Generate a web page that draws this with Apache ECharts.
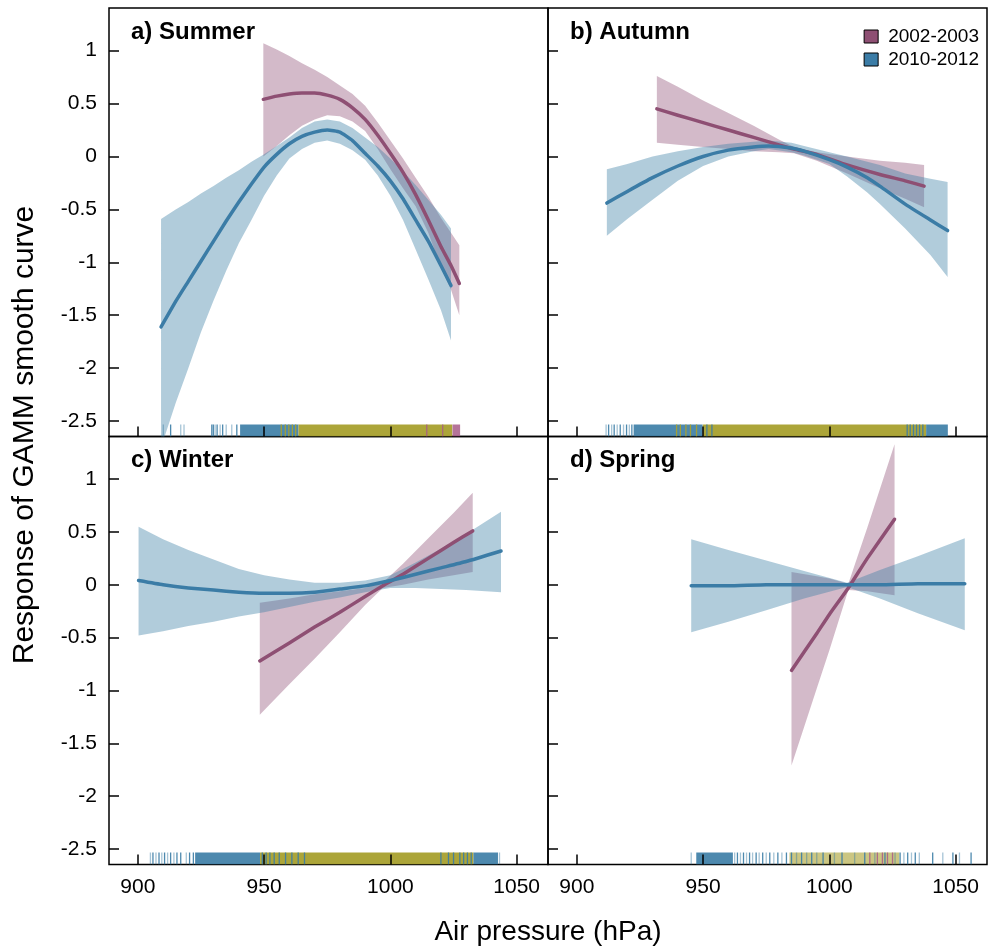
<!DOCTYPE html>
<html>
<head>
<meta charset="utf-8">
<script src="https://cdn.jsdelivr.net/npm/echarts@6/dist/echarts.min.js"></script>
<style>
html, body { margin: 0; padding: 0; background: #fff; }
#chart { width: 988px; height: 952px; }
</style>
</head>
<body>
<div id="chart"></div>
<script>
// GAMM smooth curves: rows are [air pressure, fit, lower CI, upper CI]
const summerOld = [
	[949.7, 0.54, 0.00, 1.07], [955, 0.57, 0.10, 1.01], [960, 0.59, 0.20, 0.95],
	[965, 0.60, 0.29, 0.88], [970, 0.60, 0.35, 0.82], [975, 0.58, 0.39, 0.75],
	[980, 0.54, 0.38, 0.67], [985, 0.46, 0.33, 0.59], [990, 0.35, 0.24, 0.48],
	[995, 0.20, 0.07, 0.32], [1000, 0.03, -0.12, 0.15], [1005, -0.15, -0.30, -0.02],
	[1010, -0.36, -0.47, -0.20], [1015, -0.60, -0.72, -0.38], [1020, -0.85, -1.05, -0.58],
	[1024, -1.03, -1.26, -0.72], [1027.3, -1.20, -1.50, -0.84]
];
const summerNew = [
	[909.2, -1.61, -2.75, -0.59], [915, -1.37, -2.33, -0.50], [920, -1.18, -2.00, -0.43],
	[925, -0.99, -1.66, -0.35], [930, -0.80, -1.36, -0.28], [935, -0.61, -1.08, -0.20],
	[940, -0.43, -0.82, -0.13], [945, -0.26, -0.60, -0.05], [950, -0.10, -0.37, 0.02],
	[955, 0.02, -0.18, 0.10], [960, 0.12, -0.02, 0.18], [965, 0.19, 0.07, 0.27],
	[970, 0.23, 0.13, 0.33], [975, 0.25, 0.15, 0.35], [980, 0.23, 0.12, 0.33],
	[985, 0.15, 0.06, 0.27], [990, 0.03, -0.03, 0.18], [995, -0.09, -0.18, 0.09],
	[1000, -0.23, -0.37, -0.02], [1005, -0.40, -0.60, -0.14], [1010, -0.60, -0.88, -0.27],
	[1015, -0.80, -1.16, -0.41], [1020, -1.03, -1.45, -0.55], [1024, -1.22, -1.74, -0.68]
];
const autumnOld = [
	[931.7, 0.45, 0.13, 0.76], [940, 0.39, 0.11, 0.66], [950, 0.32, 0.09, 0.53],
	[960, 0.25, 0.07, 0.41], [970, 0.18, 0.05, 0.29], [980, 0.11, 0.04, 0.16],
	[986, 0.07, 0.03, 0.09], [995, 0.02, -0.04, 0.04], [1007, -0.08, -0.16, 0.00],
	[1020, -0.17, -0.30, -0.04], [1030, -0.23, -0.40, -0.06], [1037.5, -0.28, -0.48, -0.08]
];
const autumnNew = [
	[911.9, -0.44, -0.75, -0.12], [920, -0.33, -0.59, -0.07], [930, -0.20, -0.41, 0.00],
	[940, -0.09, -0.23, 0.05], [950, 0.00, -0.09, 0.09], [960, 0.06, 0.00, 0.12],
	[970, 0.09, 0.05, 0.14], [976, 0.10, 0.07, 0.15], [985, 0.08, 0.04, 0.13],
	[990, 0.05, 0.01, 0.10], [1000, -0.03, -0.07, 0.04], [1007, -0.10, -0.19, 0.00],
	[1015, -0.20, -0.34, -0.05], [1020, -0.28, -0.45, -0.08], [1030, -0.45, -0.68, -0.16],
	[1040, -0.60, -0.93, -0.21], [1046.8, -0.70, -1.14, -0.24]
];
const winterOld = [
	[948.3, -0.72, -1.23, -0.17], [960, -0.55, -0.94, -0.13], [970, -0.40, -0.70, -0.09],
	[980, -0.26, -0.45, -0.06], [990, -0.11, -0.19, -0.03], [997, -0.01, -0.03, 0.02],
	[1005, 0.10, 0.00, 0.20], [1015, 0.25, 0.05, 0.44], [1025, 0.40, 0.09, 0.68],
	[1032.6, 0.51, 0.12, 0.87]
];
const winterNew = [
	[900.3, 0.04, -0.48, 0.55], [910, 0.00, -0.44, 0.43], [920, -0.03, -0.39, 0.33],
	[930, -0.05, -0.35, 0.24], [940, -0.07, -0.30, 0.15], [950, -0.08, -0.26, 0.09],
	[960, -0.08, -0.21, 0.05], [970, -0.07, -0.16, 0.02], [980, -0.04, -0.12, 0.02],
	[990, -0.01, -0.07, 0.04], [1000, 0.04, -0.03, 0.09], [1010, 0.10, -0.03, 0.21],
	[1020, 0.16, -0.04, 0.34], [1030, 0.22, -0.05, 0.48], [1043.8, 0.32, -0.07, 0.69]
];
const springOld = [
	[985, -0.81, -1.71, 0.12], [995, -0.46, -0.98, 0.08], [1000, -0.28, -0.62, 0.06],
	[1007.5, -0.03, -0.05, 0.01], [1015, 0.25, -0.06, 0.54], [1025.8, 0.62, -0.10, 1.33]
];
const springNew = [
	[945.3, -0.01, -0.45, 0.43], [960, -0.01, -0.35, 0.33], [975, 0.00, -0.24, 0.23],
	[990, 0.00, -0.13, 0.13], [1007, 0.00, -0.02, 0.02], [1020, 0.00, -0.13, 0.14],
	[1035, 0.01, -0.27, 0.27], [1053.6, 0.01, -0.43, 0.44]
];

// rug of observations: [from, to, kind]  kind 0 blue, 1 olive, 2 pink, 3 pale blue, 4 pale olive
const rugSummer = [
	[910.1, 910.1, 3], [913, 913, 0], [917, 917, 3], [918.3, 918.3, 3],
	[929.3, 929.3, 0], [929.9, 929.9, 0], [930.6, 930.6, 3], [931.4, 931.4, 0],
	[932.6, 932.6, 3], [933.6, 933.6, 0], [935, 935, 3], [937.2, 937.2, 3], [939.2, 939.2, 0],
	[940.5, 963.6, 0],
	[956.8, 956.8, 1], [958.4, 958.4, 1], [959.8, 959.8, 1], [961.2, 961.2, 1], [962.5, 962.5, 1],
	[963.6, 1024.5, 1],
	[1014.4, 1014.4, 2], [1020.7, 1020.7, 2],
	[1024.6, 1027.6, 2]
];
const rugAutumn = [
	[911.6, 911.6, 3], [912.6, 912.6, 0], [913.8, 913.8, 3], [914.8, 914.8, 0], [916, 916, 3],
	[917.2, 917.2, 0], [918.5, 918.5, 3], [919.7, 919.7, 0], [920.8, 920.8, 3], [921.8, 921.8, 0],
	[922.5, 949.8, 0],
	[939.5, 939.5, 1], [941, 941, 1], [943.2, 943.2, 1], [945, 945, 1], [947.4, 947.4, 1],
	[949.9, 1038.3, 1],
	[951.5, 951.5, 0], [953.5, 953.5, 0], [1030.8, 1030.8, 0], [1032, 1032, 0],
	[1033.3, 1033.3, 0], [1034.5, 1034.5, 0], [1035.7, 1035.7, 0], [1037, 1037, 0],
	[1038.3, 1046.9, 0]
];
const rugWinter = [
	[905, 905, 3], [906, 906, 0], [907.2, 907.2, 3], [908.4, 908.4, 0], [909.5, 909.5, 3],
	[910.6, 910.6, 0], [911.8, 911.8, 3], [913, 913, 0], [914.3, 914.3, 3], [915.5, 915.5, 0],
	[917, 917, 0], [919.2, 919.2, 3], [920.5, 920.5, 0], [922, 922, 0],
	[922.7, 948.4, 0],
	[948.4, 1032.9, 1],
	[949.3, 949.3, 0], [950.8, 950.8, 0], [952.3, 952.3, 0], [954, 954, 0], [956, 956, 0],
	[958.5, 958.5, 0], [961, 961, 0], [963.5, 963.5, 0], [966, 966, 0], [1020, 1020, 0],
	[1023, 1023, 0], [1025, 1025, 0], [1027.5, 1027.5, 0], [1029, 1029, 0],
	[1030.5, 1030.5, 0], [1032, 1032, 0],
	[1032.9, 1042.6, 0], [1043.2, 1043.2, 3]
];
const rugSpring = [
	[945.3, 945.3, 3],
	[947.3, 961.8, 0],
	[962.5, 962.5, 3], [963.6, 963.6, 0], [964.8, 964.8, 3], [966, 966, 0], [967.2, 967.2, 3],
	[968.4, 968.4, 0], [969.6, 969.6, 3], [971, 971, 0], [972.2, 972.2, 3], [973.6, 973.6, 0],
	[975, 975, 3], [976.4, 976.4, 0], [978, 978, 3], [979.6, 979.6, 0], [981.2, 981.2, 3], [983, 983, 0],
	[984.2, 1027.7, 4],
	[985, 985, 0], [987, 987, 3], [989, 989, 0], [991, 991, 3], [993, 993, 0], [995, 995, 3],
	[997.5, 997.5, 0], [1002, 1002, 3], [1005, 1005, 0], [1010, 1010, 3], [1014, 1014, 0],
	[1018, 1018, 3], [1022, 1022, 0], [1026, 1026, 3],
	[1016, 1016, 2], [1019, 1019, 2], [1021, 1021, 2], [1023, 1023, 2], [1025, 1025, 2],
	[1028, 1028, 0], [1029.5, 1029.5, 3], [1031, 1031, 0], [1032.5, 1032.5, 3], [1034, 1034, 0],
	[1035.6, 1035.6, 3], [1040.9, 1040.9, 0], [1044.9, 1044.9, 3], [1048.9, 1048.9, 0],
	[1051.5, 1051.5, 3], [1056.1, 1056.1, 0]
];

const panelTitles = ['a) Summer', 'b) Autumn', 'c) Winter', 'd) Spring'];
const periods = ['2002-2003', '2010-2012'];
const xTicks = [900, 950, 1000, 1050];
const yTicks = [-2.5, -2, -1.5, -1, -0.5, 0, 0.5, 1];
const xMin = 888.6, xMax = 1062.4;
const yMin = -2.646, yMax = 1.403;

const font = '"Liberation Sans", Arial, sans-serif';
const pink = '#8e4f73', blue = '#3b7ca6';
const pinkFill = 'rgba(139,74,112,0.38)', blueFill = 'rgba(61,127,166,0.4)';
const rugColors = ['rgba(58,124,165,0.9)', 'rgba(168,160,46,0.95)', 'rgba(168,92,136,0.85)',
	'rgba(58,124,165,0.45)', 'rgba(168,160,46,0.6)'];

const panels = [
	{old: summerOld, recent: summerNew, rug: rugSummer},
	{old: autumnOld, recent: autumnNew, rug: rugAutumn},
	{old: winterOld, recent: winterNew, rug: rugWinter},
	{old: springOld, recent: springNew, rug: rugSpring}
];

const grids = [
	{left: 109, top: 8, width: 439, height: 428.5},
	{left: 548, top: 8, width: 439, height: 428.5},
	{left: 109, top: 436.5, width: 439, height: 428},
	{left: 548, top: 436.5, width: 439, height: 428}
];

function bandSeries(rows, idx, fill) {
	return {
		type: 'custom', name: 'band', xAxisIndex: idx, yAxisIndex: idx,
		clip: true, silent: true, z: 1,
		data: rows,
		renderItem: function (params, api) {
			if (params.dataIndex !== 0) return;
			let top = rows.map(function (r) { return api.coord([r[0], r[3]]); });
			let bottom = rows.map(function (r) { return api.coord([r[0], r[2]]); }).reverse();
			return {type: 'polygon', shape: {points: top.concat(bottom)}, style: {fill: fill}};
		}
	};
}

function rugSeries(segs, idx) {
	return {
		type: 'custom', name: 'rug', xAxisIndex: idx, yAxisIndex: idx,
		clip: true, silent: true, z: 3,
		data: segs,
		renderItem: function (params, api) {
			let a = api.coord([api.value(0), yMin]);
			let b = api.coord([api.value(1), yMin]);
			let w = Math.max(b[0] - a[0], 1.3);
			return {
				type: 'rect',
				shape: {x: a[0] - (b[0] - a[0] < 1 ? 0.65 : 0), y: a[1] - 12, width: w, height: 12},
				style: {fill: rugColors[api.value(2)]}
			};
		}
	};
}

function lineSeries(rows, idx, name, color) {
	return {
		type: 'line', name: name, xAxisIndex: idx, yAxisIndex: idx, z: 4,
		data: rows.map(function (r) { return [r[0], r[1]]; }),
		showSymbol: false, smooth: 0.15, silent: true,
		itemStyle: {color: color},
		lineStyle: {color: color, width: 3.5, cap: 'round', join: 'round'}
	};
}

let series = [];
panels.forEach(function (p, i) {
	series.push(bandSeries(p.old, i, pinkFill));
	series.push(bandSeries(p.recent, i, blueFill));
	series.push(rugSeries(p.rug, i));
	series.push(lineSeries(p.old, i, periods[0], pink));
	series.push(lineSeries(p.recent, i, periods[1], blue));
});

const option = {
	animation: false,
	backgroundColor: '#fff',
	grid: grids.map(function (g) {
		return Object.assign({show: true, borderColor: '#000', borderWidth: 1.5, backgroundColor: 'transparent'}, g);
	}),
	xAxis: grids.map(function (g, i) {
		return {
			type: 'value', gridIndex: i, min: xMin, max: xMax, z: 6, position: 'bottom',
			axisLine: {show: false, onZero: false},
			splitLine: {show: false},
			axisTick: {show: true, inside: true, length: 10, customValues: xTicks, lineStyle: {color: '#000', width: 1.5}},
			axisLabel: {
				show: i >= 2, customValues: xTicks, margin: 12, fontSize: 21, color: '#000', fontFamily: font,
				formatter: function (v) { return String(v); }
			}
		};
	}),
	yAxis: grids.map(function (g, i) {
		return {
			type: 'value', gridIndex: i, min: yMin, max: yMax, z: 6, position: 'left',
			axisLine: {show: false, onZero: false},
			splitLine: {show: false},
			axisTick: {show: true, inside: true, length: 10, customValues: yTicks, lineStyle: {color: '#000', width: 1.5}},
			axisLabel: {
				show: i % 2 === 0, customValues: yTicks, margin: 12, fontSize: 21, color: '#000', fontFamily: font,
				formatter: function (v) { return String(v); }
			}
		};
	}),
	title: panelTitles.map(function (t, i) {
		return {
			text: t, left: grids[i].left + 22, top: grids[i].top + 12, padding: 0,
			textStyle: {fontSize: 24, fontWeight: 'bold', color: '#000', fontFamily: font}
		};
	}),
	legend: {
		data: periods, orient: 'vertical', right: 4, top: 22, icon: 'rect',
		itemWidth: 14, itemHeight: 13, itemGap: 4, selectedMode: false,
		itemStyle: {borderColor: '#000', borderWidth: 1},
		textStyle: {fontSize: 19, color: '#000', fontFamily: font, lineHeight: 18, padding: [0, 0, 0, 5]}
	},
	graphic: [
		{
			type: 'text', x: 25, y: 435, rotation: Math.PI / 2,
			style: {text: 'Response of GAMM smooth curve', fontSize: 30, fontFamily: font, fill: '#000', textAlign: 'center', textVerticalAlign: 'middle'}
		},
		{
			type: 'text', x: 548, y: 932,
			style: {text: 'Air pressure (hPa)', fontSize: 28, fontFamily: font, fill: '#000', textAlign: 'center', textVerticalAlign: 'middle'}
		}
	],
	series: series
};

let myChart = echarts.init(document.getElementById('chart'), null, {renderer: 'canvas'});
myChart.setOption(option);
</script>
</body>
</html>
